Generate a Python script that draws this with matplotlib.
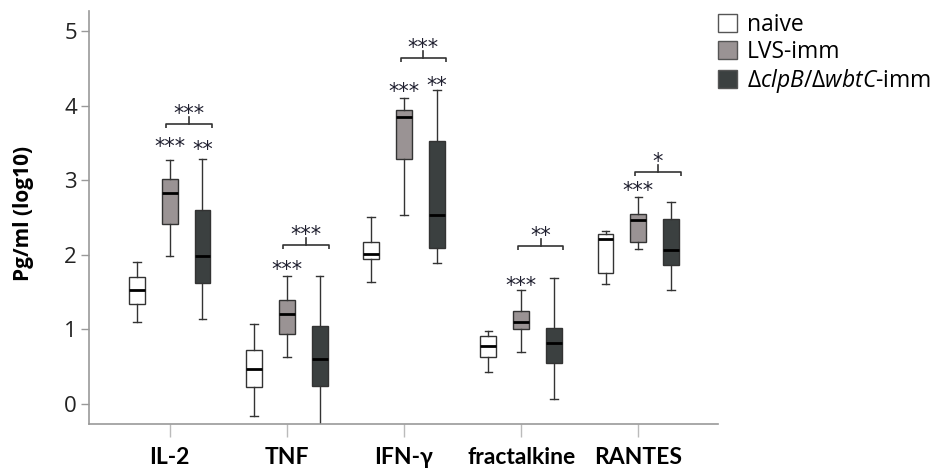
import matplotlib
matplotlib.use("Agg")
import matplotlib.pyplot as plt
from matplotlib.patches import Patch
import numpy as np

categories = ["IL-2", "TNF", "IFN-γ", "fractalkine", "RANTES"]
groups = ["naive", "LVS-imm", r"$\Delta\mathit{clpB}/\Delta\mathit{wbtC}$-imm"]

# (whisker low, q1, median, q3, whisker high) per cytokine, log10 pg/ml
naive = [(1.09, 1.34, 1.53, 1.70, 1.90),
         (-0.17, 0.23, 0.46, 0.72, 1.07),
         (1.63, 1.94, 2.01, 2.17, 2.50),
         (0.43, 0.62, 0.77, 0.91, 0.97),
         (1.61, 1.75, 2.21, 2.28, 2.32)]
lvs = [(1.98, 2.41, 2.83, 3.01, 3.27),
       (0.63, 0.94, 1.20, 1.39, 1.71),
       (2.53, 3.29, 3.85, 3.94, 4.10),
       (0.69, 1.00, 1.10, 1.25, 1.53),
       (2.08, 2.17, 2.46, 2.54, 2.77)]
mutant = [(1.13, 1.62, 1.98, 2.60, 3.28),
          (-0.28, 0.24, 0.60, 1.04, 1.71),
          (1.89, 2.09, 2.53, 3.52, 4.21),
          (0.06, 0.55, 0.82, 1.01, 1.68),
          (1.52, 1.86, 2.06, 2.48, 2.70)]

# significance marks vs naive, and LVS vs mutant (bracket)
lvs_stars = ["***", "***", "***", "***", "***"]
lvs_star_y = [3.52, 1.87, 4.25, 1.65, 2.92]
mutant_stars = ["**", "", "**", "", ""]
mutant_star_y = [3.47, 0, 4.34, 0, 0]
bracket_stars = ["***", "***", "***", "**", "*"]
bracket_y = [3.76, 2.13, 4.64, 2.12, 3.11]

colors = ["#ffffff", "#9a9394", "#3b4040"]
offsets = [-0.28, 0.0, 0.28]

plt.rcParams["mathtext.fontset"] = "custom"
plt.rcParams["mathtext.rm"] = "Open Sans"
plt.rcParams["mathtext.it"] = "Open Sans:italic"

fig = plt.figure(figsize=(9.41, 4.70), dpi=100)
ax = fig.add_axes([0.0949, 0.0972, 0.6678, 0.8794])

x = np.arange(1, len(categories) + 1)
for data, col, off in zip([naive, lvs, mutant], colors, offsets):
    stats = []
    for lo, q1, med, q3, hi in data:
        stats.append(dict(whislo=lo, q1=q1, med=med, q3=q3, whishi=hi, fliers=[]))
    ax.bxp(stats, positions=x + off, widths=0.135, capwidths=0.065,
           patch_artist=True, showfliers=False, manage_ticks=False,
           boxprops=dict(facecolor=col, edgecolor="#333333", linewidth=1.0),
           whiskerprops=dict(color="#333333", linewidth=1.0),
           capprops=dict(color="#333333", linewidth=1.0),
           medianprops=dict(color="black", linewidth=2.0))

star_kw = dict(ha="center", va="center", fontsize=15, color="#202030")
for i in range(len(categories)):
    xi = x[i]
    if lvs_stars[i]:
        ax.text(xi + offsets[1], lvs_star_y[i] - 0.07, lvs_stars[i], **star_kw)
    if mutant_stars[i]:
        ax.text(xi + offsets[2], mutant_star_y[i] - 0.07, mutant_stars[i], **star_kw)
    by = bracket_y[i]
    x0, x1 = xi + offsets[1] - 0.03, xi + offsets[2] + 0.08
    ax.plot([x0, x0, x1, x1], [by - 0.06, by, by, by - 0.06], color="#333333",
            lw=1.2, solid_joinstyle="round", solid_capstyle="butt")
    xm = (x0 + x1) / 2
    ax.plot([xm, xm], [by, by + 0.09], color="#333333", lw=1.2)
    ax.text(xm, by + 0.20 - 0.07, bracket_stars[i], **star_kw)

ax.set_xlim(0.314, 5.677)
ax.set_ylim(-0.277, 5.27)
ax.set_yticks([0, 1, 2, 3, 4, 5])
ax.set_xticks(x)
ax.set_xticklabels(categories, fontfamily="Lato", fontweight="bold", fontsize=16.5)
for lab in ax.get_yticklabels():
    lab.set_fontfamily("Open Sans")
    lab.set_fontsize(16)
ax.tick_params(axis="y", length=6, width=1.0, color="#999999", pad=3, labelcolor="#222222")
ax.tick_params(axis="x", length=9.5, width=1.0, color="#bbbbbb", pad=7, labelcolor="black")
for s in ["top", "right"]:
    ax.spines[s].set_visible(False)
for s in ["left", "bottom"]:
    ax.spines[s].set_color("#999999")
    ax.spines[s].set_linewidth(1.2)

ax.set_ylabel("Pg/ml (log10)", fontfamily="Open Sans", fontweight="bold", fontsize=15)
ax.yaxis.set_label_coords(-0.088, 0.51)

handles = [Patch(facecolor=c, edgecolor="#555555", linewidth=1.0) for c in colors]
fig.legend(handles, groups, loc="upper left", bbox_to_anchor=(0.763, 0.972),
           frameon=False, borderpad=0, borderaxespad=0, handlelength=0.85,
           handleheight=0.85, handletextpad=0.4, labelspacing=0.12,
           prop=dict(family="Open Sans", size=16.5))

fig.savefig("out.png", dpi=100)
